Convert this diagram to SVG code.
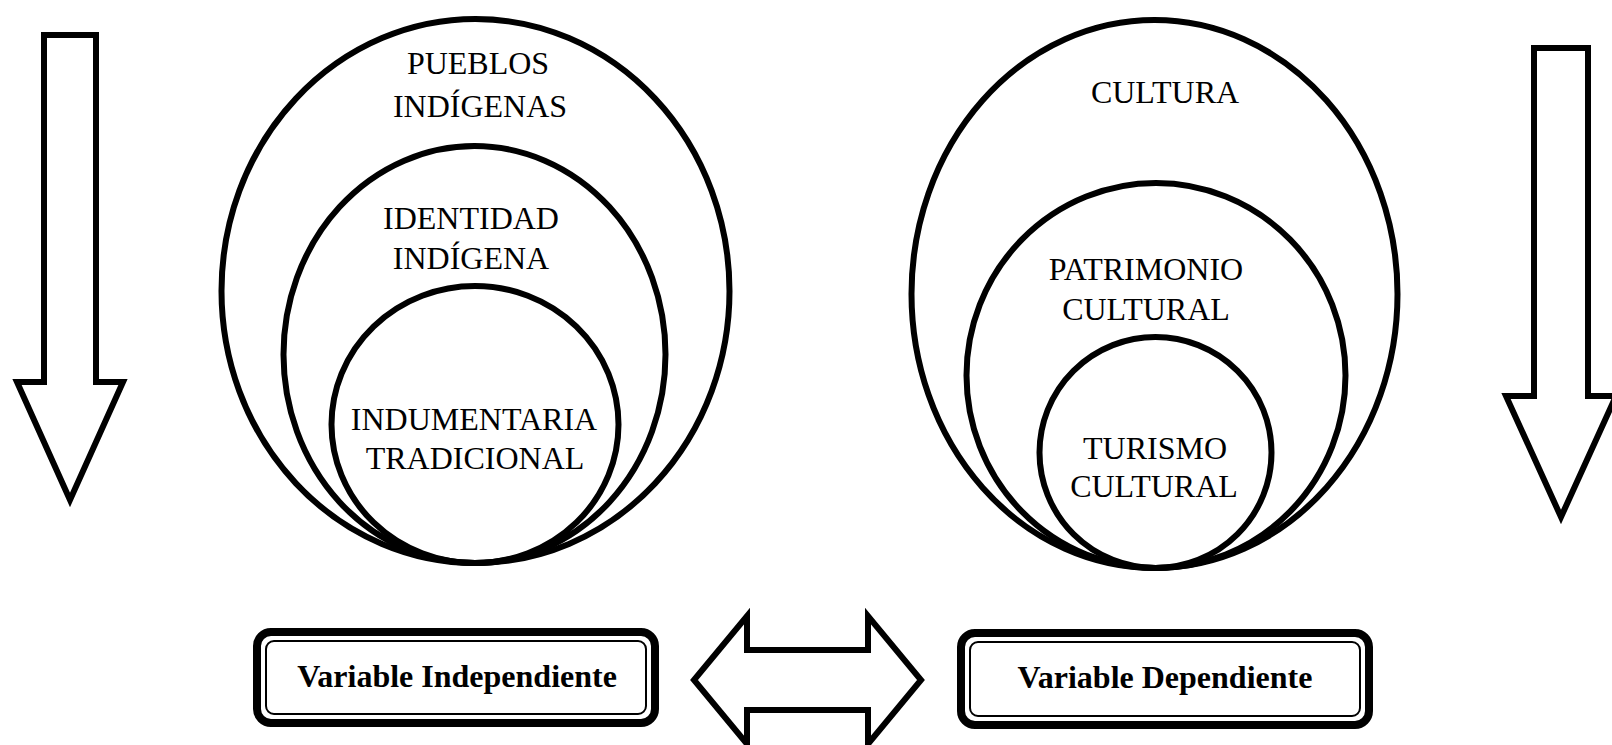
<svg xmlns="http://www.w3.org/2000/svg" width="1612" height="745" viewBox="0 0 1612 745">
<style>
  .ring{fill:none;stroke:#000;stroke-width:6}
  .lbl{font-family:"Liberation Serif","Times New Roman",serif;font-size:32px;fill:#000;text-anchor:middle}
  .var{font-family:"Liberation Serif","Times New Roman",serif;font-size:32px;font-weight:bold;fill:#000;text-anchor:middle}
  .arrow{fill:#fff;stroke:#000;stroke-width:6;stroke-linejoin:miter;stroke-miterlimit:10}
  .boxo{fill:#fff;stroke:#000;stroke-width:8}
  .boxi{fill:none;stroke:#000;stroke-width:2}
</style>
<rect width="1612" height="745" fill="#fff"/>
<g id="connectors">
  <polygon class="arrow" points="44,35 96,35 96,382 123,382 70,500 17,382 44,382"/>
  <polygon class="arrow" points="1534,48 1588,48 1588,396 1616,396 1561,517 1506,396 1534,396"/>
  <polygon class="arrow" points="694,680 747,616 747,650 868,650 868,616 921,680 868,744 868,710 747,710 747,744"/>
</g>
<g id="pueblos-indigenas">
  <ellipse class="ring" cx="475.5" cy="291" rx="254" ry="272"/>
  <text class="lbl" x="478" y="74">PUEBLOS</text>
  <text class="lbl" x="480" y="117">INDÍGENAS</text>
</g>
<g id="identidad-indigena">
  <ellipse class="ring" cx="474.5" cy="354.5" rx="191" ry="208.5"/>
  <text class="lbl" x="471" y="229">IDENTIDAD</text>
  <text class="lbl" x="471" y="269">INDÍGENA</text>
</g>
<g id="indumentaria-tradicional">
  <ellipse class="ring" cx="475" cy="424.5" rx="143.5" ry="138.5"/>
  <text class="lbl" x="474" y="430">INDUMENTARIA</text>
  <text class="lbl" x="475" y="469">TRADICIONAL</text>
</g>
<g id="cultura">
  <ellipse class="ring" cx="1154.5" cy="294" rx="243" ry="274"/>
  <text class="lbl" x="1165" y="103">CULTURA</text>
</g>
<g id="patrimonio-cultural">
  <ellipse class="ring" cx="1156" cy="375.5" rx="189.5" ry="192.5"/>
  <text class="lbl" x="1146" y="280">PATRIMONIO</text>
  <text class="lbl" x="1146" y="320">CULTURAL</text>
</g>
<g id="turismo-cultural">
  <ellipse class="ring" cx="1155.5" cy="452.5" rx="116" ry="115.5"/>
  <text class="lbl" x="1155" y="459">TURISMO</text>
  <text class="lbl" x="1154" y="497">CULTURAL</text>
</g>
<g id="variable-independiente">
  <rect class="boxo" x="257" y="632" width="398" height="91" rx="14"/>
  <rect class="boxi" x="266" y="641" width="380" height="73" rx="8"/>
  <text class="var" x="457" y="687">Variable Independiente</text>
</g>
<g id="variable-dependiente">
  <rect class="boxo" x="961" y="633" width="408" height="92" rx="14"/>
  <rect class="boxi" x="970" y="642" width="390" height="74" rx="8"/>
  <text class="var" x="1165" y="688">Variable Dependiente</text>
</g>
</svg>
